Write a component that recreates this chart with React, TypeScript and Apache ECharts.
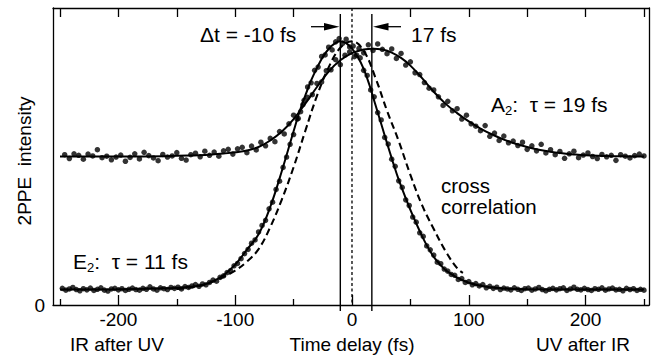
import React, { useEffect, useRef } from "react";
import * as echarts from "echarts";

const FONT = '"Liberation Sans", Arial, Helvetica, sans-serif';

// Axis ticks (fs)
const xTickMajor = [-200, -100, 0, 100, 200];
const xTickMinor = [-250, -150, -50, 50, 150, 250];
const xTickTop = [-250, -200, -150, -100, -50, 0, 50, 100, 150, 200, 250];
const yTickLabels = [0];

// Peak markers (fs)
const peakMarkers = [-10, 17];
const zeroDelay = 0;

// A2 measured points [delay fs, intensity]
const a2Dots = [
  [-246, 50.6], [-242, 49.3], [-238, 50.9], [-234, 50.4], [-230, 49.1], [-226, 50.8], [-222, 50.2], [-218, 52.3],
  [-214, 49.6], [-210, 50.1], [-206, 48.9], [-202, 49.8], [-198, 50.5], [-194, 48.4], [-190, 49.7], [-186, 50.9],
  [-182, 49.2], [-178, 51.4], [-174, 50.3], [-170, 49.5], [-166, 48.6], [-162, 50.7], [-158, 49.8], [-154, 50.2],
  [-150, 51.3], [-146, 49.4], [-142, 48.8], [-138, 50.6], [-134, 51.1], [-130, 49.9], [-126, 51.8], [-122, 50.4],
  [-118, 51.5], [-114, 50.1], [-110, 51.9], [-106, 52.4], [-102, 50.8], [-98, 52.6], [-94, 53.1], [-90, 51.3],
  [-86, 53.5], [-82, 52.2], [-78, 54.8], [-74, 53.6], [-70, 56.1], [-66, 55.0], [-62, 58.4], [-58, 57.6],
  [-54, 61.0], [-50, 63.9], [-46, 62.8], [-42, 67.5], [-38, 69.9], [-34, 70.8], [-30, 74.6], [-26, 75.1],
  [-22, 78.9], [-18, 79.2], [-14, 82.6], [-10, 80.9], [-6, 84.1], [-2, 85.2], [2, 83.6], [6, 86.4],
  [10, 84.9], [14, 87.6], [18, 85.7], [22, 87.9], [26, 86.1], [30, 84.6], [34, 86.2], [38, 83.0],
  [42, 84.7], [46, 80.8], [50, 81.9], [54, 78.2], [58, 77.6], [62, 74.9], [66, 73.0], [70, 72.4],
  [74, 70.1], [78, 67.2], [82, 68.6], [86, 65.4], [90, 66.1], [94, 62.6], [98, 63.9], [102, 61.0],
  [106, 60.2], [110, 58.7], [114, 60.4], [118, 56.8], [122, 57.9], [126, 55.4], [130, 56.9], [134, 54.6],
  [138, 55.2], [142, 53.7], [146, 54.8], [150, 52.4], [154, 53.6], [158, 51.9], [162, 54.1], [166, 51.2],
  [170, 52.3], [174, 50.6], [178, 51.7], [182, 49.4], [186, 50.9], [190, 51.8], [194, 49.6], [198, 50.5],
  [202, 51.2], [206, 50.0], [210, 49.3], [214, 50.7], [218, 49.9], [222, 50.4], [226, 48.7], [230, 50.6],
  [234, 50.1], [238, 49.5], [242, 50.3], [246, 50.8], [250, 50.2],
];

// E2 measured points [delay fs, intensity]
const e2Dots = [
  [-248, 5.6], [-245, 5.0], [-242, 5.4], [-239, 5.9], [-236, 5.2], [-233, 4.8], [-230, 5.5], [-227, 5.1],
  [-224, 5.7], [-221, 4.9], [-218, 5.3], [-215, 5.8], [-212, 5.0], [-209, 4.7], [-206, 5.4], [-203, 5.6],
  [-200, 5.1], [-197, 5.5], [-194, 4.9], [-191, 5.3], [-188, 5.7], [-185, 5.2], [-182, 5.0], [-179, 5.6],
  [-176, 5.3], [-173, 6.1], [-170, 5.4], [-167, 5.0], [-164, 5.8], [-161, 5.5], [-158, 5.2], [-155, 5.9],
  [-152, 5.6], [-149, 6.0], [-146, 5.4], [-143, 6.2], [-140, 5.9], [-137, 6.4], [-134, 6.9], [-131, 6.3],
  [-128, 7.1], [-125, 6.8], [-122, 7.6], [-119, 8.4], [-116, 8.0], [-113, 9.3], [-110, 9.8], [-107, 10.9],
  [-104, 11.6], [-101, 13.2], [-98, 14.0], [-95, 15.6], [-92, 17.3], [-89, 18.7], [-86, 20.8], [-83, 21.9],
  [-80, 24.6], [-77, 26.8], [-74, 28.5], [-71, 32.4], [-68, 34.6], [-65, 38.9], [-62, 41.7], [-59, 46.3],
  [-56, 49.8], [-53, 54.1], [-50, 57.4], [-47, 62.6], [-44, 65.1], [-41, 68.9], [-38, 73.4], [-35, 74.8],
  [-32, 79.0], [-29, 80.1], [-26, 83.7], [-23, 84.2], [-20, 86.8], [-17, 85.9], [-14, 88.6], [-11, 89.7],
  [-8, 88.1], [-5, 89.5], [-2, 86.9], [1, 87.2], [4, 84.1], [7, 83.2], [10, 79.0], [13, 77.3],
  [16, 72.4], [19, 70.1], [22, 64.8], [25, 62.3], [28, 56.4], [31, 54.2], [34, 49.1], [37, 46.7],
  [40, 41.8], [43, 39.6], [46, 35.4], [49, 33.5], [52, 29.6], [55, 27.9], [58, 24.3], [61, 23.1],
  [64, 19.9], [67, 18.6], [70, 16.8], [73, 14.4], [76, 13.9], [79, 12.1], [82, 11.4], [85, 10.3],
  [88, 10.0], [91, 8.6], [94, 8.9], [97, 7.6], [100, 7.9], [103, 6.8], [106, 7.2], [109, 6.4],
  [112, 6.9], [115, 5.8], [118, 6.3], [121, 5.6], [124, 6.0], [127, 5.2], [130, 5.7], [133, 5.4],
  [136, 5.1], [139, 5.8], [142, 5.3], [145, 4.9], [148, 5.5], [151, 5.7], [154, 5.0], [157, 5.4],
  [160, 5.9], [163, 5.2], [166, 4.8], [169, 5.3], [172, 5.6], [175, 5.1], [178, 5.5], [181, 5.8],
  [184, 4.9], [187, 5.4], [190, 6.0], [193, 5.3], [196, 5.1], [199, 5.6], [202, 5.2], [205, 4.9],
  [208, 5.5], [211, 5.3], [214, 5.8], [217, 5.0], [220, 5.4], [223, 5.7], [226, 5.1], [229, 5.3],
  [232, 4.8], [235, 5.6], [238, 5.2], [241, 5.5], [244, 4.9], [247, 5.3], [250, 5.0],
];

// Fit curves [delay fs, intensity]
const a2Fit = [
  [-250, 50], [-200, 50], [-160, 50.1], [-140, 50.3], [-120, 50.7], [-110, 51], [-100, 51.4], [-90, 52],
  [-80, 53.2], [-70, 55.4], [-60, 58.4], [-50, 62.6], [-40, 67.8], [-30, 73.4], [-20, 78.6], [-10, 82.4],
  [0, 84.8], [10, 86], [18, 86.3], [26, 86], [34, 85], [42, 83.2], [50, 80.6], [60, 76.4], [70, 71.8],
  [80, 67.8], [90, 64.6], [100, 61.8], [110, 59.4], [120, 57.4], [130, 55.7], [140, 54.3], [150, 53.2],
  [160, 52.3], [170, 51.6], [180, 51.1], [190, 50.7], [200, 50.4], [215, 50.2], [230, 50.05], [250, 50],
];

const e2Fit = [
  [-250, 5.2], [-200, 5.3], [-160, 5.6], [-140, 6.1], [-130, 6.6], [-120, 7.8], [-110, 10], [-100, 13.6],
  [-90, 18.6], [-80, 23.8], [-70, 33], [-60, 45.2], [-50, 58.5], [-45, 65], [-40, 70.5], [-35, 75.6],
  [-30, 79.8], [-25, 83.5], [-20, 86.2], [-15, 88], [-10, 88.8], [-5, 88.2], [0, 86.3], [5, 83.5],
  [10, 79.5], [15, 74], [20, 67.5], [25, 61], [30, 54.5], [35, 48.2], [40, 42.2], [45, 37], [50, 32],
  [55, 27.5], [60, 23.2], [65, 19.4], [70, 16.2], [75, 13.8], [80, 11.8], [90, 9.2], [100, 7.5],
  [110, 6.5], [125, 5.7], [150, 5.3], [200, 5.2], [250, 5.2],
];

const crossCorrelation = [
  [-150, 5.4], [-140, 5.8], [-130, 6.5], [-120, 7.8], [-110, 9.5], [-100, 11.6], [-90, 14.6], [-80, 18.8],
  [-70, 26.2], [-60, 35.6], [-50, 46.4], [-40, 58.6], [-30, 70.4], [-20, 80], [-10, 86.6], [0, 88.8],
  [10, 85.6], [20, 76.6], [30, 65.4], [40, 55.2], [50, 43.8], [60, 33.6], [70, 25.6], [80, 18.2],
  [90, 12.4], [95, 10.8],
];

export default function App() {
  const ref = useRef<HTMLDivElement>(null);

  useEffect(() => {
    if (!ref.current) return;
    const chart = echarts.init(ref.current, null, { renderer: "svg" });
    const black = "#000";
    const axisLine = { show: true, onZero: false, lineStyle: { color: black, width: 1.3 } };

    const vLine = (x: number, top: number, bottom: number, type: any, width: number) => ({
      type: "line",
      data: [[x, top], [x, bottom]],
      symbol: "none",
      clip: false,
      silent: true,
      lineStyle: { color: black, width, type },
      z: 1,
    });

    chart.setOption({
      animation: false,
      backgroundColor: "#fff",
      grid: { left: 53, right: 7, top: 8, bottom: 53, containLabel: false },
      xAxis: [
        {
          type: "value",
          min: -256,
          max: 254.3,
          position: "bottom",
          axisLine,
          splitLine: { show: false },
          axisTick: { show: true, inside: true, length: 10, customValues: xTickMajor, lineStyle: { color: black, width: 1.3 } },
          axisLabel: { show: true, customValues: xTickMajor, fontSize: 19, fontFamily: FONT, color: black, margin: 5 },
        },
        {
          type: "value",
          min: -256,
          max: 254.3,
          position: "bottom",
          axisLine: { show: false, onZero: false },
          splitLine: { show: false },
          axisTick: { show: true, inside: true, length: 6, customValues: xTickMinor, lineStyle: { color: black, width: 1.3 } },
          axisLabel: { show: false },
        },
        {
          type: "value",
          min: -256,
          max: 254.3,
          position: "top",
          axisLine,
          splitLine: { show: false },
          axisTick: { show: true, inside: true, length: 9, customValues: xTickTop.filter((v) => v !== zeroDelay), lineStyle: { color: black, width: 1.3 } },
          axisLabel: { show: false },
        },
      ],
      yAxis: [
        {
          type: "value",
          min: 0,
          max: 100,
          position: "left",
          axisLine,
          splitLine: { show: false },
          axisTick: { show: false },
          axisLabel: { show: true, customValues: yTickLabels, fontSize: 19, fontFamily: FONT, color: black, margin: 8 },
        },
        {
          type: "value",
          min: 0,
          max: 100,
          position: "right",
          axisLine,
          splitLine: { show: false },
          axisTick: { show: false },
          axisLabel: { show: false },
        },
      ],
      series: [
        vLine(peakMarkers[0], 98, -2, "solid", 1.4),
        vLine(peakMarkers[1], 98, -2, "solid", 1.4),
        vLine(zeroDelay, 100, 0, [3, 2.5], 1.3),
        {
          type: "line",
          data: crossCorrelation,
          smooth: 0.4,
          symbol: "none",
          lineStyle: { color: black, width: 2.1, type: [7, 4] },
          z: 2,
        },
        {
          type: "line",
          data: a2Fit,
          smooth: 0.4,
          symbol: "none",
          lineStyle: { color: black, width: 2 },
          z: 2,
        },
        {
          type: "line",
          data: e2Fit,
          smooth: 0.4,
          symbol: "none",
          lineStyle: { color: black, width: 2 },
          z: 2,
        },
        {
          type: "scatter",
          data: a2Dots,
          symbol: "circle",
          symbolSize: 5.5,
          itemStyle: { color: black },
          z: 3,
        },
        {
          type: "scatter",
          data: e2Dots,
          symbol: "circle",
          symbolSize: 5.5,
          itemStyle: { color: black },
          z: 3,
        },
      ],
      graphic: [
        {
          type: "text",
          x: 24,
          y: 161,
          rotation: Math.PI / 2,
          style: { text: "2PPE  intensity", fontSize: 19, fontFamily: FONT, fill: black, align: "center", verticalAlign: "middle" },
        },
        {
          type: "text",
          x: 117,
          y: 344,
          style: { text: "IR after UV", fontSize: 19, fontFamily: FONT, fill: black, align: "center", verticalAlign: "middle" },
        },
        {
          type: "text",
          x: 352,
          y: 344,
          style: { text: "Time delay (fs)", fontSize: 19, fontFamily: FONT, fill: black, align: "center", verticalAlign: "middle" },
        },
        {
          type: "text",
          x: 583,
          y: 344,
          style: { text: "UV after IR", fontSize: 19, fontFamily: FONT, fill: black, align: "center", verticalAlign: "middle" },
        },
        {
          type: "text",
          x: 200,
          y: 34,
          style: { text: "Δt = -10 fs", fontSize: 21, fontFamily: FONT, fill: black, align: "left", verticalAlign: "middle" },
        },
        {
          type: "text",
          x: 411,
          y: 34,
          style: { text: "17 fs", fontSize: 21, fontFamily: FONT, fill: black, align: "left", verticalAlign: "middle" },
        },
        {
          type: "text",
          x: 441,
          y: 185.5,
          style: { text: "cross", fontSize: 20.5, lineHeight: 20.5, fontFamily: FONT, fill: black, align: "left", verticalAlign: "middle" },
        },
        {
          type: "text",
          x: 441,
          y: 206.5,
          style: { text: "correlation", fontSize: 20.5, lineHeight: 20.5, fontFamily: FONT, fill: black, align: "left", verticalAlign: "middle" },
        },
        {
          type: "text",
          x: 491,
          y: 104,
          style: {
            text: "{a|A}{b|2}{a|:  τ = 19 fs}",
            align: "left",
            verticalAlign: "middle",
            rich: {
              a: { fontSize: 21, fontFamily: FONT, fill: black, lineHeight: 26 },
              b: { fontSize: 13, fontFamily: FONT, fill: black, lineHeight: 13, verticalAlign: "bottom" },
            },
          },
        },
        {
          type: "text",
          x: 73,
          y: 261,
          style: {
            text: "{a|E}{b|2}{a|:  τ = 11 fs}",
            align: "left",
            verticalAlign: "middle",
            rich: {
              a: { fontSize: 21, fontFamily: FONT, fill: black, lineHeight: 26 },
              b: { fontSize: 13, fontFamily: FONT, fill: black, lineHeight: 13, verticalAlign: "bottom" },
            },
          },
        },
        // arrows
        { type: "line", shape: { x1: 311, y1: 26.7, x2: 326, y2: 26.7 }, style: { stroke: black, lineWidth: 1.3 } },
        { type: "polygon", shape: { points: [[339.5, 26.7], [324, 23], [324, 30.4]] }, style: { fill: black } },
        { type: "line", shape: { x1: 386, y1: 26.7, x2: 401, y2: 26.7 }, style: { stroke: black, lineWidth: 1.3 } },
        { type: "polygon", shape: { points: [[373, 26.7], [388.5, 23], [388.5, 30.4]] }, style: { fill: black } },
      ],
    });

    return () => chart.dispose();
  }, []);

  return <div ref={ref} style={{ position: "absolute", left: 0, top: 0, width: 656, height: 358 }} />;
}
